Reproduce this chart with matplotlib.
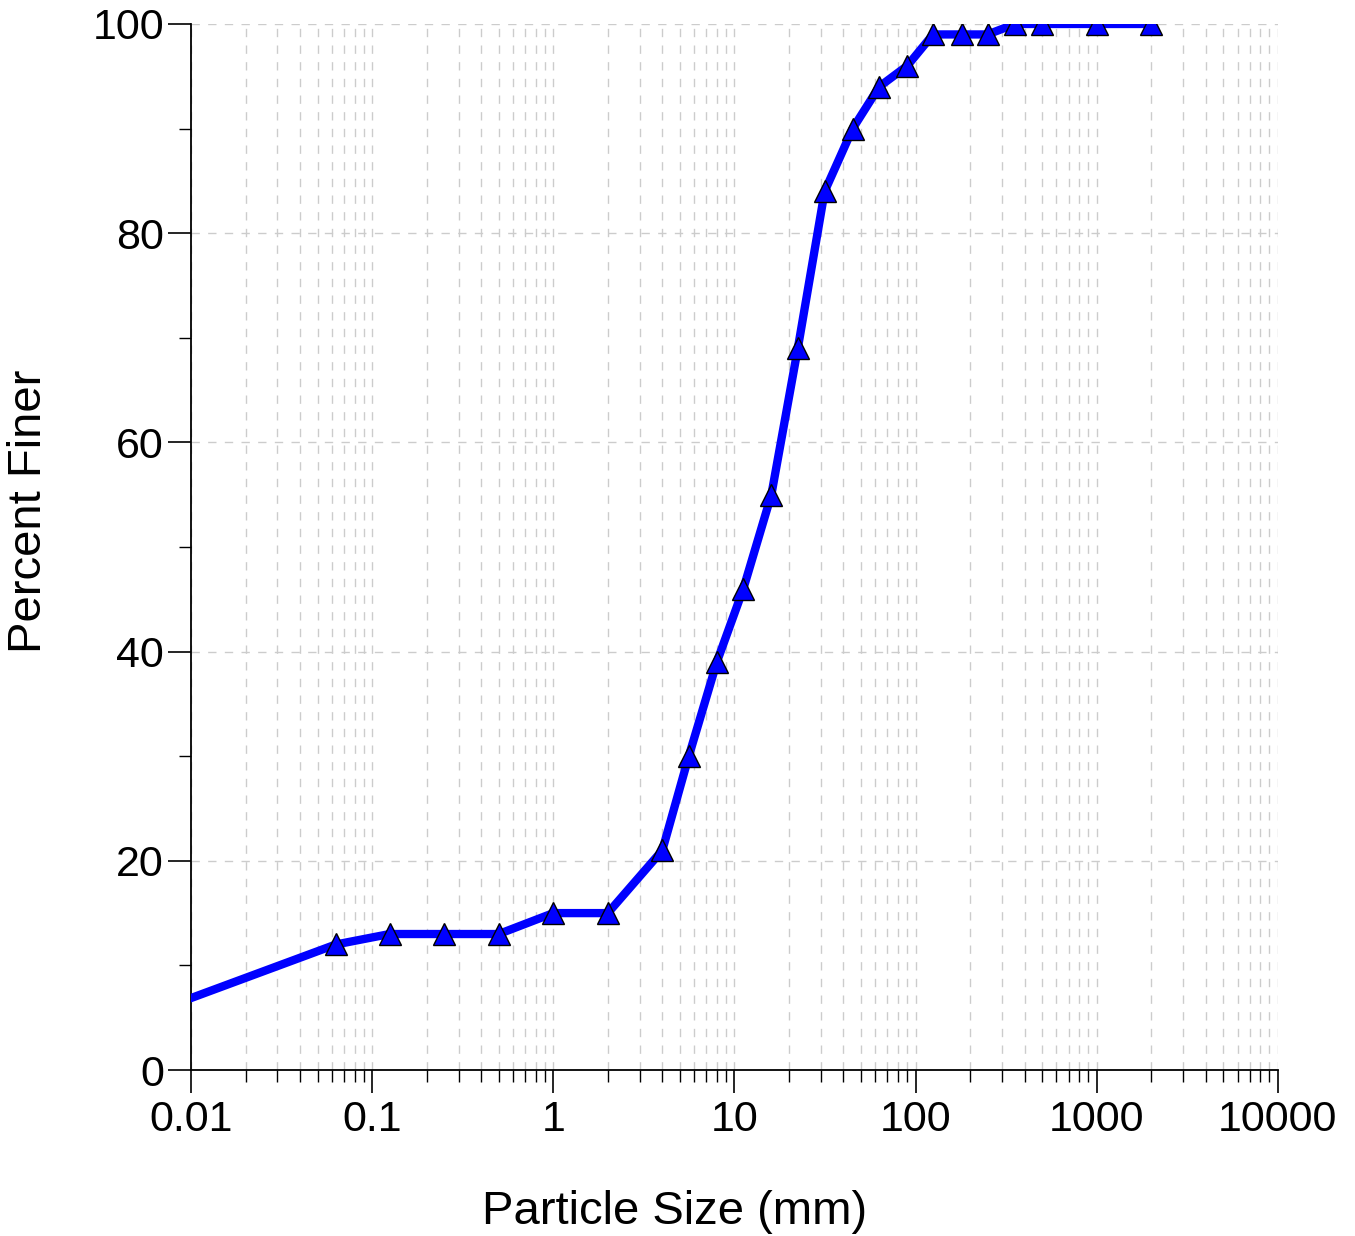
import matplotlib.pyplot as plt
from matplotlib.ticker import LogLocator, FixedLocator, NullFormatter

plt.rcParams['font.family'] = ['Liberation Sans', 'DejaVu Sans']

# grain size (mm) and percent finer
size_mm = [0.002, 0.063, 0.125, 0.25, 0.5, 1, 2, 4, 5.6, 8, 11.2, 16, 22.4,
           31.5, 45, 63, 90, 125, 180, 250, 355, 500, 1000, 2000]
pct_finer = [2.4, 12, 13, 13, 13, 15, 15, 21, 30, 39, 46, 55, 69,
             84, 90, 94, 96, 99, 99, 99, 100, 100, 100, 100]
x_ticks = [0.01, 0.1, 1, 10, 100, 1000, 10000]
x_labels = ['0.01', '0.1', '1', '10', '100', '1000', '10000']
y_ticks = [0, 20, 40, 60, 80, 100]


def main():
    fig = plt.figure(figsize=(13.55, 12.36), dpi=100)
    ax = fig.add_axes([0.141, 0.1343, 0.802, 0.8463])

    ax.plot(size_mm, pct_finer, color='#0000ff', lw=6, zorder=3)
    ax.plot(size_mm[1:], pct_finer[1:], ls='none', marker='^', ms=16,
            mfc='#0000ff', mec='black', mew=1, zorder=4)

    ax.set_xscale('log')
    ax.set_xlim(0.01, 10000)
    ax.set_ylim(0, 100)

    ax.xaxis.set_major_locator(FixedLocator(x_ticks))
    ax.set_xticklabels(x_labels)
    ax.xaxis.set_minor_locator(LogLocator(base=10, subs=range(2, 10), numticks=20))
    ax.xaxis.set_minor_formatter(NullFormatter())
    ax.set_yticks(y_ticks)
    ax.set_yticks([10, 30, 50, 70, 90], minor=True)

    ax.grid(True, which='major', axis='both', color='#cccccc', lw=1, ls=(0, (6, 6)))
    ax.grid(True, which='minor', axis='x', color='#cccccc', lw=1, ls=(0, (6, 6)))
    ax.set_axisbelow(True)

    for s in ['top', 'right']:
        ax.spines[s].set_visible(False)
    for s in ['left', 'bottom']:
        ax.spines[s].set_linewidth(1.3)

    ax.tick_params(which='major', direction='out', length=16.5, width=1.2,
                   labelsize=31, pad=5)
    ax.tick_params(which='minor', direction='out', length=8.4, width=1)
    ax.tick_params(axis='y', which='major', pad=3)

    ax.set_xlabel('Particle Size (mm)', fontsize=34, labelpad=36)
    ax.set_ylabel('Percent Finer', fontsize=34, labelpad=30)
    ax.xaxis.label.set_x(0.445)
    ax.yaxis.label.set_y(0.534)

    plt.savefig('out.png', dpi=100)
    plt.close()


if __name__ == '__main__':
    main()
